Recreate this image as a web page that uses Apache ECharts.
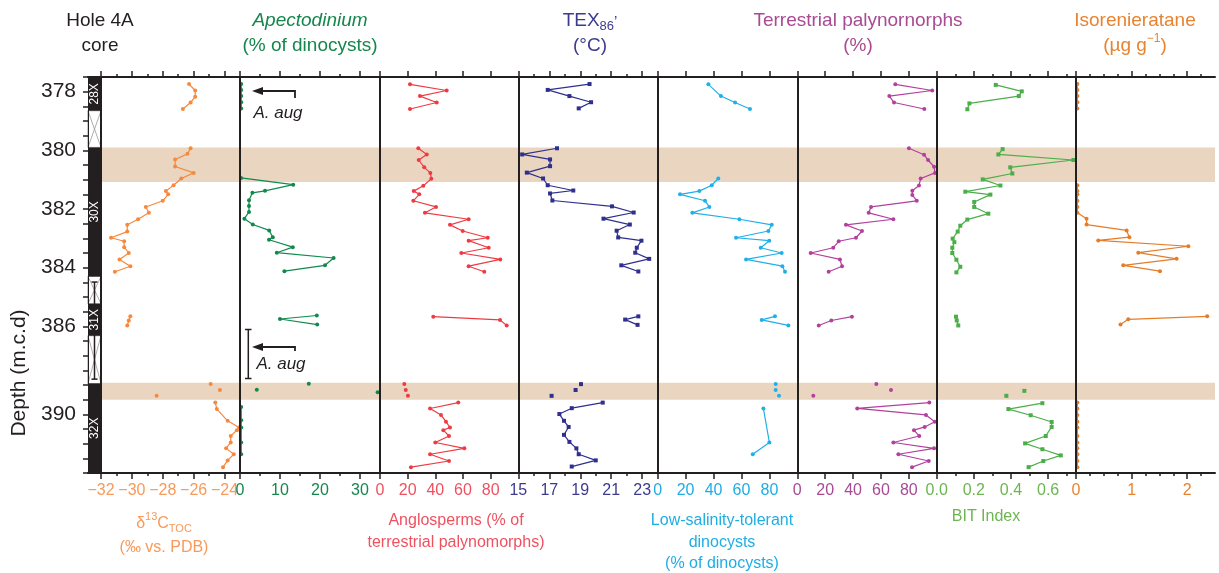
<!DOCTYPE html>
<html><head><meta charset="utf-8">
<script src="https://cdn.jsdelivr.net/npm/echarts@6/dist/echarts.min.js"></script>
<style>html,body{margin:0;padding:0;background:#fff}#c{width:1219px;height:573px}</style>
</head><body><div id="c"></div>
<script>
// ---------------- DATA ----------------
const depthMin = 377.5, depthMax = 391.0;
const depthLabelPos = [378, 380, 382, 384, 386, 389];
const depthLabelText = ['378', '380', '382', '384', '386', '390'];

const bandTop = [379.9, 387.92];
const bandBottom = [381.08, 388.5];

const coreNames = ['28X', '30X', '31X', '32X'];
const coreTop = [377.5, 379.9, 385.23, 387.95];
const coreBottom = [378.65, 384.3, 386.32, 391.0];
const gapTop = [378.65, 384.3, 386.32];
const gapBottom = [379.9, 385.23, 387.95];
const recoveryTop = [384.49];
const recoveryBottom = [387.8];

// d13C TOC (permil vs PDB)
const d13cDepth = [377.74,377.96,378.17,378.37,378.59,null,
  379.93,380.12,380.31,380.55,380.77,380.96,381.19,381.39,381.50,381.72,381.93,382.13,382.35,382.54,382.77,382.98,383.10,383.30,383.50,383.72,383.95,384.14,null,
  385.66,385.80,385.97,null,387.97,null,388.17,null,388.37,null,
  388.60,388.82,389.22,389.45,389.54,389.74,389.96,390.16,390.36,390.57,390.80];
const d13cValue = [-26.3,-25.9,-25.9,-26.2,-26.7,null,
  -26.2,-26.4,-27.2,-27.2,-26.0,-26.8,-27.3,-27.8,-27.65,-28.0,-29.1,-28.9,-29.6,-30.3,-30.3,-31.35,-30.5,-30.5,-30.2,-30.8,-30.1,-31.1,null,
  -30.1,-30.2,-30.3,null,-24.9,null,-24.3,null,-28.4,null,
  -24.6,-24.5,-23.8,-23.06,-23.2,-23.6,-23.6,-23.9,-23.4,-23.8,-24.1];

// Apectodinium (% of dinocysts)
const apectDepth = [377.74,377.94,378.15,378.36,378.57,null,
  380.94,381.17,381.38,381.45,381.70,381.90,382.10,382.33,382.53,382.73,382.96,383.05,383.30,383.49,383.67,383.92,384.12,null,
  385.63,385.75,385.94,null,387.96,null,388.16,null,388.25,null,
  388.75,389.20,389.45,389.96,390.36];
const apectValue = [0.3,0.3,0.3,0.3,0.3,null,
  0.25,13.3,6.25,3.1,2.25,2.25,2.25,1.1,3.2,7.3,8.2,7.25,13.2,9.2,23.4,21.25,11.1,null,
  19.2,10.0,19.3,null,17.2,null,4.2,null,34.4,null,
  0.3,0.3,0.3,0.3,0.3];

// Angiosperms (% of terrestrial palynomorphs)
const angioDepth = [377.75,377.96,378.15,378.37,378.59,null,
  379.93,380.14,380.33,380.58,380.77,380.97,381.21,381.39,381.50,381.72,381.93,382.13,382.35,382.54,382.75,382.98,383.08,383.32,383.50,383.72,383.95,384.14,null,
  385.67,385.78,385.97,null,387.97,null,388.17,null,388.37,null,
  388.60,388.80,389.02,389.25,389.45,389.54,389.74,389.96,390.16,390.36,390.59,390.80];
const angioValue = [21.7,48.2,28.9,41.0,21.7,null,
  27.7,33.8,28.0,32.0,36.4,37.1,31.3,24.4,28.4,24.1,40.5,32.5,64.1,50.6,59.8,77.9,64.1,78.6,58.8,87.0,64.1,75.4,null,
  38.5,86.8,91.6,null,17.6,null,18.6,null,20.2,null,
  56.6,36.2,44.1,47.7,50.6,45.8,49.9,40.0,61.0,36.2,49.9,22.4];

// TEX86' (deg C)
const texDepth = [377.74,377.94,378.15,378.36,378.57,null,
  379.93,380.14,380.31,380.54,380.76,380.96,381.19,381.37,381.47,381.71,381.91,382.12,382.33,382.53,382.74,382.97,383.08,383.32,383.49,383.70,383.92,384.13,null,
  385.66,385.77,385.95,null,387.97,null,388.17,null,388.37,null,
  388.60,388.79,388.99,389.22,389.43,389.70,389.94,390.16,390.36,390.57,390.78];
const texValue = [19.6,16.9,18.3,19.7,18.9,null,
  17.5,15.25,17.05,17.05,15.55,16.6,16.9,18.55,17.05,17.2,21.05,22.45,20.5,22.2,21.35,21.45,22.95,22.65,22.55,23.45,21.65,22.75,null,
  22.75,21.9,22.7,null,19.05,null,18.7,null,17.15,null,
  20.45,18.45,17.65,17.95,18.25,17.95,18.3,18.75,18.9,20.0,18.45];

// Low-salinity-tolerant dinocysts (% of dinocysts)
const lowSalDepth = [377.75,378.15,378.37,378.59,null,
  380.96,381.19,381.39,381.50,381.72,381.93,382.13,382.35,382.54,382.75,382.98,383.08,383.32,383.50,383.72,383.95,384.14,null,
  385.66,385.78,385.97,null,387.97,null,388.17,null,388.37,null,
  388.80,389.96,390.36];
const lowSalValue = [36.3,45.3,55.4,66.1,null,
  43.4,38.7,29.8,16.0,33.9,37.0,24.8,58.5,81.7,79.3,56.1,79.9,73.8,88.8,63.3,89.3,91.2,null,
  84.0,74.5,93.6,null,84.5,null,84.5,null,86.9,null,
  75.7,80.0,68.1];

// Terrestrial palynomorphs (%)
const terrDepth = [377.75,377.96,378.15,378.37,378.59,null,
  379.93,380.15,380.33,380.56,380.77,380.96,381.20,381.38,381.52,381.72,381.93,382.13,382.35,382.54,382.75,382.98,383.10,383.32,383.50,383.72,383.95,384.14,null,
  385.67,385.80,385.97,null,387.97,null,388.17,null,388.37,null,
  388.60,388.80,389.02,389.25,389.43,389.54,389.74,389.96,390.16,390.36,390.59,390.80];
const terrValue = [70.3,96.8,66.0,69.4,91.1,null,
  80.1,90.9,93.8,98.1,98.8,88.5,87.3,82.5,82.5,85.7,52.9,51.2,68.9,34.9,46.4,42.1,29.7,25.8,9.6,30.6,32.1,22.5,null,
  39.2,24.4,15.4,null,56.7,null,67.2,null,11.5,null,
  94.7,43.0,92.3,98.6,91.4,83.7,87.5,68.9,98.1,72.5,94.3,82.3];

// BIT index
const bitDepth = [377.77,377.99,378.15,378.40,378.60,null,
  379.96,380.14,380.33,380.58,380.79,380.99,381.20,381.41,381.51,381.76,381.93,382.16,382.36,382.57,382.77,383.01,383.13,383.32,383.50,383.73,383.97,384.16,null,
  385.67,385.80,385.97,null,388.20,null,388.37,null,
  388.62,388.82,389.03,389.26,389.43,389.74,389.99,390.19,390.40,390.59,390.80];
const bitValue = [0.318,0.458,0.442,0.176,0.165,null,
  0.355,0.332,0.736,0.396,0.407,0.248,0.343,0.154,0.289,0.202,0.202,0.278,0.165,0.127,0.113,0.086,0.095,0.084,0.084,0.106,0.127,0.106,null,
  0.104,0.108,0.116,null,0.472,null,0.375,null,
  0.569,0.386,0.506,0.619,0.619,0.587,0.476,0.569,0.668,0.574,0.495];

// Isorenieratane (ug/g)
const isoDepth = [377.74,377.94,378.15,378.36,378.57,null,
  381.19,381.39,381.50,381.72,381.93,382.13,382.33,382.53,382.73,382.96,383.07,383.27,383.49,383.70,383.92,384.12,null,
  385.66,385.76,385.94,null,
  388.60,388.80,389.02,389.25,389.45,389.74,389.96,390.16,390.36,390.59,390.80];
const isoValue = [0.025,0.025,0.025,0.025,0.025,null,
  0.025,0.025,0.025,0.025,0.025,0.025,0.19,0.19,0.91,0.96,0.40,2.02,1.12,1.81,0.85,1.51,null,
  2.36,0.94,0.80,null,
  0.025,0.025,0.025,0.025,0.025,0.025,0.025,0.025,0.025,0.025,0.025];

// axis ticks
const d13cMajor = [-32,-30,-28,-26,-24], d13cMinor = [-31,-29,-27,-25];
const apectMajor = [0,10,20,30], apectMinor = [5,15,25];
const angioMajor = [0,20,40,60,80], angioMinor = [];
const texMajor = [15,17,19,21,23], texMinor = [16,18,20,22];
const lowSalMajor = [0,20,40,60,80], lowSalMinor = [];
const terrMajor = [0,20,40,60,80], terrMinor = [];
const bitMajor = [0,0.2,0.4,0.6], bitMinor = [0.1,0.3,0.5,0.7];
const isoMajor = [0,1,2], isoMinor = [0.25,0.5,0.75,1.25,1.5,1.75,2.25];

// ---------------- LAYOUT / STYLE ----------------
const FONT = '"Liberation Sans", Arial, Helvetica, sans-serif';
const INK = '#231f20';
const BAND = '#e9d5c0';
const plotTop = 77, plotBottom = 473;
const coreLeft = 88, coreRight = 101;
const edges = [101, 240, 380, 518.3, 657.7, 797.3, 936.7, 1076, 1215];

const fmtSigned = v => (v < 0 ? '\u2212' + Math.abs(v) : String(v));
const panels = [
  {min:-32, max:-23, major:d13cMajor, minor:d13cMinor, depth:d13cDepth, value:d13cValue, line:'#f6893d', text:'#f79a5b', sym:'circle', fmt:fmtSigned},
  {min:0, max:35, major:apectMajor, minor:apectMinor, depth:apectDepth, value:apectValue, line:'#0f8a4d', text:'#15874d', sym:'circle', fmt:String},
  {min:0, max:100, major:angioMajor, minor:angioMinor, depth:angioDepth, value:angioValue, line:'#ee3b43', text:'#ef5160', sym:'circle', fmt:String},
  {min:15, max:24, major:texMajor, minor:texMinor, depth:texDepth, value:texValue, line:'#2e2f8e', text:'#3d3b8f', sym:'rect', fmt:String},
  {min:0, max:100, major:lowSalMajor, minor:lowSalMinor, depth:lowSalDepth, value:lowSalValue, line:'#1fb0e8', text:'#1eaee4', sym:'circle', fmt:String},
  {min:0, max:100, major:terrMajor, minor:terrMinor, depth:terrDepth, value:terrValue, line:'#b3409d', text:'#a84a94', sym:'circle', fmt:String},
  {min:0, max:0.75, major:bitMajor, minor:bitMinor, depth:bitDepth, value:bitValue, line:'#4cae48', text:'#6cb550', sym:'rect', fmt:v => v.toFixed(1)},
  {min:0, max:2.5, major:isoMajor, minor:isoMinor, depth:isoDepth, value:isoValue, line:'#e57c28', text:'#e8832f', sym:'circle', fmt:String}
];

const grids = [], xAxes = [], yAxes = [], series = [];
function addGrid(l, r) { grids.push({left:l, top:plotTop, width:r - l, height:plotBottom - plotTop}); return grids.length - 1; }
function yAxisFor(gi, extra) {
  yAxes.push(Object.assign({gridIndex:gi, type:'value', inverse:true, min:depthMin, max:depthMax, position:'left', z:5,
    axisLine:{show:true, lineStyle:{color:INK, width:2}}, axisTick:{show:false}, axisLabel:{show:false}, splitLine:{show:false}}, extra || {}));
  return yAxes.length - 1;
}
function xAxisFor(gi, p, position, kind) {
  const ax = {gridIndex:gi, type:'value', min:p.min, max:p.max, position:position, z:5, splitLine:{show:false},
    axisLine:{show: kind === 'major', onZero:false, lineStyle:{color:INK, width:2}},
    axisTick:{show:true, inside:false, length: kind === 'major' ? 6 : 3, customValues: kind === 'major' ? p.major : p.minor, lineStyle:{color:INK, width:1.5}},
    axisLabel:{show:false}};
  if (kind === 'major' && position === 'bottom') {
    ax.axisLabel = {show:true, customValues:p.major, formatter:v => p.fmt(v), color:p.text, fontSize:16, fontFamily:FONT, margin:10};
  }
  xAxes.push(ax); return xAxes.length - 1;
}

// core column
const cg = addGrid(coreLeft, coreRight);
const cx = xAxes.length;
xAxes.push({gridIndex:cg, type:'value', min:0, max:1, position:'bottom', z:5, axisLine:{show:true, onZero:false, lineStyle:{color:INK, width:2}}, axisTick:{show:false}, axisLabel:{show:false}, splitLine:{show:false}});
xAxes.push({gridIndex:cg, type:'value', min:0, max:1, position:'top', z:5, axisLine:{show:true, onZero:false, lineStyle:{color:INK, width:2}}, axisTick:{show:false}, axisLabel:{show:false}, splitLine:{show:false}});
const cy = yAxisFor(cg, {interval:0.5, axisLine:{show:true, lineStyle:{color:INK, width:1}},
  axisTick:{show:true, length:5, lineStyle:{color:INK, width:1.5}},
  axisLabel:{show:true, customValues:depthLabelPos, margin:12, fontSize:21, color:INK, fontFamily:FONT,
    formatter:v => { const i = depthLabelPos.findIndex(q => Math.abs(q - v) < 1e-6); return i >= 0 ? depthLabelText[i] : ''; }}});

series.push({type:'custom', xAxisIndex:cx, yAxisIndex:cy, z:3, silent:true,
  data: gapTop.map((t, i) => [0, t, gapBottom[i]]), encode:{x:0, y:1},
  renderItem(params, api) {
    const a = api.coord([0, api.value(1)]), b = api.coord([1, api.value(2)]);
    return {type:'group', children:[
      {type:'rect', shape:{x:a[0], y:a[1], width:b[0]-a[0], height:b[1]-a[1]}, style:{fill:'#fff', stroke:'#777', lineWidth:0.8}},
      {type:'line', shape:{x1:a[0], y1:a[1], x2:b[0], y2:b[1]}, style:{stroke:'#999', lineWidth:0.8}},
      {type:'line', shape:{x1:b[0], y1:a[1], x2:a[0], y2:b[1]}, style:{stroke:'#999', lineWidth:0.8}}
    ]};
  }});
series.push({type:'custom', xAxisIndex:cx, yAxisIndex:cy, z:4, silent:true,
  data: recoveryTop.map((t, i) => [0.5, t, recoveryBottom[i]]), encode:{x:0, y:1},
  renderItem(params, api) {
    const a = api.coord([0.5, api.value(1)]), b = api.coord([0.5, api.value(2)]);
    return {type:'group', children:[
      {type:'line', shape:{x1:a[0], y1:a[1], x2:b[0], y2:b[1]}, style:{stroke:INK, lineWidth:1.5}},
      {type:'line', shape:{x1:a[0]-3, y1:a[1], x2:a[0]+3, y2:a[1]}, style:{stroke:INK, lineWidth:1.5}},
      {type:'line', shape:{x1:b[0]-3, y1:b[1], x2:b[0]+3, y2:b[1]}, style:{stroke:INK, lineWidth:1.5}}
    ]};
  }});
series.push({type:'custom', xAxisIndex:cx, yAxisIndex:cy, z:5, silent:true,
  data: coreTop.map((t, i) => [0, t, coreBottom[i], i]), encode:{x:0, y:1},
  renderItem(params, api) {
    const a = api.coord([0, api.value(1)]), b = api.coord([1, api.value(2)]);
    const name = coreNames[api.value(3)];
    return {type:'group', children:[
      {type:'rect', shape:{x:a[0], y:a[1], width:b[0]-a[0], height:b[1]-a[1]}, style:{fill:INK}},
      {type:'text', x:(a[0]+b[0])/2 + 0.5, y:(a[1]+b[1])/2, rotation:Math.PI/2,
        style:{text:name, fill:'#fff', fontSize:12, fontFamily:FONT, align:'center', verticalAlign:'middle'}}
    ]};
  }});

// panels
panels.forEach((p, k) => {
  const gi = addGrid(edges[k], edges[k + 1]);
  const xb = xAxisFor(gi, p, 'bottom', 'major');
  if (p.minor.length) xAxisFor(gi, p, 'bottom', 'minor');
  xAxisFor(gi, p, 'top', 'major');
  if (p.minor.length) xAxisFor(gi, p, 'top', 'minor');
  const yi = yAxisFor(gi);
  series.push({type:'custom', xAxisIndex:xb, yAxisIndex:yi, z:1, silent:true,
    data: bandTop.map((t, i) => [p.min, t, bandBottom[i]]), encode:{x:0, y:1},
    renderItem(params, api) {
      const cs = params.coordSys;
      const y1 = api.coord([api.value(0), api.value(1)])[1];
      const y2 = api.coord([api.value(0), api.value(2)])[1];
      return {type:'rect', shape:{x:cs.x, y:y1, width:cs.width, height:y2 - y1}, style:{fill:BAND}};
    }});
  series.push({type:'line', xAxisIndex:xb, yAxisIndex:yi, z:3, silent:true,
    data: p.depth.map((d, i) => (p.value[i] == null ? ['-', '-'] : [p.value[i], d])),
    symbol:p.sym, symbolSize:4, showSymbol:true, connectNulls:false,
    lineStyle:{color:p.line, width:1.2}, itemStyle:{color:p.line}});
});

// ---------------- TEXT ----------------
const ctx = document.createElement('canvas').getContext('2d');
function tw(t, size, style) { ctx.font = (style || 'normal') + ' ' + size + 'px ' + FONT; return ctx.measureText(t).width; }
const graphic = [];
function txt(t, x, y, color, size, opts) {
  opts = opts || {};
  graphic.push({type:'text', x:x, y:y, rotation:opts.rotation || 0, silent:true, z:10,
    style:{text:t, fill:color, fontSize:size, fontFamily:FONT, fontStyle:opts.italic ? 'italic' : 'normal',
      align:opts.align || 'center', verticalAlign:'middle'}});
}
function pieces(cxp, cyp, color, parts) {
  const total = parts.reduce((s, q) => s + tw(q.t, q.size), 0);
  let x = cxp - total / 2;
  parts.forEach(q => { txt(q.t, x, cyp + (q.dy || 0), color, q.size, {align:'left'}); x += tw(q.t, q.size) + (q.after || 0); });
}

// top titles
txt('Hole 4A', 100, 21, INK, 19);
txt('core', 100, 46, INK, 19);
txt('Apectodinium', 310, 21, '#15874d', 19, {italic:true});
txt('(% of dinocysts)', 310, 46, '#15874d', 19);
pieces(590, 21, '#3d3b8f', [{t:'TEX', size:19}, {t:'86', size:13, dy:5}, {t:'\u2019', size:15, dy:1}]);
txt('(\u00b0C)', 590, 46, '#3d3b8f', 19);
txt('Terrestrial palynornorphs', 858, 21, '#a84a94', 19);
txt('(%)', 858, 46, '#a84a94', 19);
txt('Isorenieratane', 1135, 21, '#e8832f', 19);
pieces(1135, 46, '#e8832f', [{t:'(\u00b5g g', size:19}, {t:'\u22121', size:12, dy:-7}, {t:')', size:19}]);

// bottom titles
pieces(164, 524, '#f79a5b', [{t:'\u03b4', size:16}, {t:'13', size:11, dy:-7}, {t:'C', size:16}, {t:'TOC', size:11, dy:5}]);
txt('(\u2030 vs. PDB)', 164, 548, '#f79a5b', 16);
txt('Anglosperms (% of', 456, 521, '#ef5160', 16);
txt('terrestrial palynomorphs)', 456, 543, '#ef5160', 16);
txt('Low-salinity-tolerant', 722, 521, '#1eaee4', 16);
txt('dinocysts', 722, 543, '#1eaee4', 16);
txt('(% of dinocysts)', 722, 564, '#1eaee4', 16);
txt('BIT Index', 986, 517, '#6cb550', 16);

// depth axis name
txt('Depth (m.c.d)', 19, 373, INK, 21, {rotation:Math.PI / 2});

// A. aug annotations in Apectodinium panel
function arrow(xr, xl, y, drop) {
  graphic.push({type:'polyline', silent:true, z:10, shape:{points:[[xr, y + drop], [xr, y], [xl + 9, y]]}, style:{stroke:INK, lineWidth:1.8, fill:null}});
  graphic.push({type:'polygon', silent:true, z:10, shape:{points:[[xl, y], [xl + 11, y - 4], [xl + 11, y + 4]]}, style:{fill:INK}});
}
arrow(295, 252, 91, 7);
txt('A. aug', 278, 113, INK, 17, {italic:true});
arrow(295, 252, 347, 4);
txt('A. aug', 281, 364, INK, 17, {italic:true});
graphic.push({type:'polyline', silent:true, z:10, shape:{points:[[245, 329.5], [251.5, 329.5]]}, style:{stroke:INK, lineWidth:1.5}});
graphic.push({type:'polyline', silent:true, z:10, shape:{points:[[248.3, 329.5], [248.3, 378.5]]}, style:{stroke:INK, lineWidth:1.5}});
graphic.push({type:'polyline', silent:true, z:10, shape:{points:[[245, 378.5], [251.5, 378.5]]}, style:{stroke:INK, lineWidth:1.5}});

const chart = echarts.init(document.getElementById('c'), null, {renderer:'canvas'});
chart.setOption({animation:false, backgroundColor:'#fff', textStyle:{fontFamily:FONT},
  grid:grids, xAxis:xAxes, yAxis:yAxes, series:series, graphic:graphic});
</script></body></html>
